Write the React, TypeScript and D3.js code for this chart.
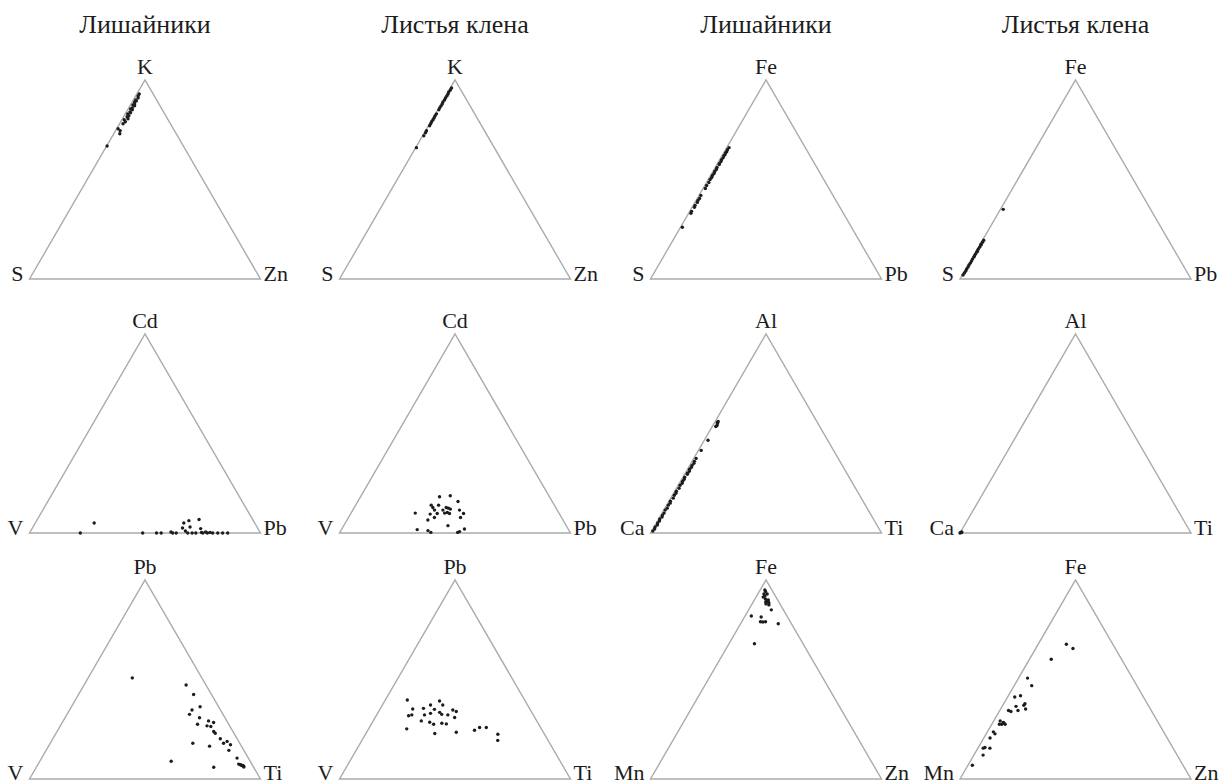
import React from "react";
import * as d3 from "d3";

// column titles (only above the top row)
const columnTitles = ["Лишайники", "Листья клена", "Лишайники", "Листья клена"];

// vertex labels per panel: [top, left, right]
const panelLabels = [
  ["K", "S", "Zn"], ["K", "S", "Zn"], ["Fe", "S", "Pb"], ["Fe", "S", "Pb"],
  ["Cd", "V", "Pb"], ["Cd", "V", "Pb"], ["Al", "Ca", "Ti"], ["Al", "Ca", "Ti"],
  ["Pb", "V", "Ti"], ["Pb", "V", "Ti"], ["Fe", "Mn", "Zn"], ["Fe", "Mn", "Zn"],
];

// points as [top %, right %]; left % = 100 - top - right
const lichenKSZn = [
  [93, 1], [92, 1], [91, 1.5], [90, 1], [89.5, 1.5], [89, 1], [88, 1.5], [87.5, 1],
  [87, 2], [86, 1.5], [85.5, 1], [85, 2], [84, 1.5], [83.5, 2], [83, 1], [82, 2],
  [81.5, 1.5], [80.5, 2.4], [80, 1], [79, 2], [78, 1.5], [75.5, 0.6], [74.5, 2],
  [73, 2.6], [66.8, 0.2],
];
const mapleKSZn = [
  [96, 0.5], [95, 0.5], [94, 0.3], [93, 0.5], [92, 0.5], [91, 0.4], [90, 0.5],
  [89, 0.3], [88, 0.5], [87, 0.5], [86, 0.4], [85, 0.5], [83, 0.5], [82, 0.4],
  [81, 0.5], [80, 0.5], [79, 0.4], [78, 0.5], [77, 0.5], [74.5, 0.4], [73.5, 0.5],
  [72, 0.5], [66, 0.3],
];
const lichenFeSPb = [
  [66, 1], [65, 0.8], [64, 1], [63.5, 0.8], [62.5, 1], [62, 0.8], [61, 1], [60, 0.8],
  [59, 1], [58, 0.8], [57.5, 1], [56, 0.8], [55, 1], [54, 0.8], [53, 1], [52, 0.8],
  [51, 1], [50, 0.8], [48.5, 1], [47, 0.8], [45.5, 1], [42, 0.8], [40.5, 1],
  [39.5, 0.8], [38.5, 1], [37, 0.8], [36, 1], [34, 0.8], [33, 1], [26, 0.8],
];
const mapleFeSPb = [
  [35, 1.2], [19.5, 0.5], [18.5, 0.5], [17.5, 0.4], [17, 0.5], [16, 0.5], [15, 0.4],
  [14, 0.5], [13.5, 0.5], [12.5, 0.4], [11.5, 0.5], [11, 0.5], [10, 0.4], [9, 0.5],
  [8, 0.5], [7, 0.4], [6, 0.5], [5, 0.4], [4, 0.5], [3, 0.4], [2, 0.3],
];
const lichenCdVPb = [
  [0, 22], [5, 25.5], [0, 49], [0, 55], [0, 57], [0.5, 61], [0, 62], [0, 63.5],
  [2.5, 65], [5, 64.3], [6.2, 65.9], [3, 68], [0, 68.5], [1, 67], [0, 70.4], [6.8, 70],
  [2.2, 73], [0.3, 74.3], [0, 75], [0.5, 76], [0, 77], [0.3, 78], [0, 79.3], [0, 72],
  [0, 81.5], [0, 83.6], [0, 85.8],
];
const mapleCdVPb = [
  [18.2, 34.2], [18.7, 38.6], [15.8, 43.4], [10, 27.8], [14, 32.7], [12.8, 34],
  [14, 35.9], [11.5, 35.4], [9.5, 34.5], [9.8, 37.4], [11.5, 39], [10, 40.5],
  [12.8, 39.8], [12.5, 40.9], [12, 42], [10.3, 41.5], [9.8, 42.7], [11.5, 46.2],
  [9.8, 48.8], [7.8, 48.5], [6.5, 35], [7.8, 37.2], [3.7, 45.1], [1.7, 32.8],
  [1.2, 37.7], [0.3, 39.4], [0.3, 51], [0.7, 51.6], [2, 53.1],
];
const lichenAlCaTi = [
  [1, 0.5], [2, 0.8], [3, 0.5], [4, 1], [5, 0.6], [6, 0.9], [7, 0.5], [8, 1], [9, 0.7],
  [10, 0.9], [11.5, 0.6], [12.5, 1], [14, 0.7], [15, 1], [16, 0.6], [17.5, 1.1],
  [19, 0.8], [20, 1], [21, 0.7], [22.5, 1.1], [24, 0.8], [25, 1.2], [26, 0.9],
  [27, 1.1], [28, 0.8], [29.5, 1.2], [30, 1], [31, 1.3], [32, 0.9], [33, 1.2],
  [34, 1], [35, 1.3], [36, 1], [37.5, 1], [41.5, 1.2], [46.6, 1.6], [53.5, 1.5],
  [54, 1.8], [55, 1.5], [55.5, 1.2], [56, 1.3],
];
const mapleAlCaTi = [[0.5, 0.5], [0.3, 0.2], [0, 0], [0.2, 0.6]];
const lichenPbVTi = [
  [50.8, 19.1], [47.2, 44.2], [42.5, 49.8], [34.7, 53], [36.3, 55.7], [32.5, 53],
  [30.8, 58.2], [29.2, 62.9], [28.4, 65.5], [27.5, 59], [26.7, 63.5], [26.4, 65.3],
  [23.9, 67.8], [23, 68.9], [20.2, 72.5], [18, 75], [18.9, 76.1], [17.2, 78.4],
  [14.4, 79.1], [18, 61.7], [16.5, 69.7], [10.5, 84.6], [7.5, 86.8], [7.2, 87.7],
  [6.7, 88.7], [6.4, 89.5], [7, 88], [6.8, 89], [6, 89.8], [8.9, 56.9], [5.9, 76.8],
];
const maplePbVTi = [
  [39.7, 9.5], [35.2, 14.1], [31.8, 14], [32.2, 15.2], [35.5, 18.6], [37.2, 20.8],
  [35, 23.6], [39.2, 23.7], [37.2, 26.1], [32.2, 20.7], [33, 22.9], [33.5, 26.6],
  [32.5, 28], [32.2, 30.8], [34.7, 31.7], [33.9, 33.6], [30.9, 34.4], [29.2, 20.8],
  [28.5, 24.8], [27.5, 27], [28, 30.3], [27.7, 32.4], [25.2, 16.5], [22.9, 29.8],
  [23.5, 38.8], [24.5, 46.2], [25.9, 47.7], [25.9, 50.6], [22.5, 57.3], [19.4, 58.8],
];
const lichenFeMnZn = [
  [95, 2], [94.2, 2.7], [93, 2.6], [93, 4], [92, 3.5], [91.4, 3.1], [90.5, 4.5],
  [90, 6], [89.7, 5.4], [89, 6.5], [88.5, 7], [88.9, 5.4], [88, 6], [87.5, 7.5],
  [85, 9.8], [81.9, 2.7], [81.4, 7.2], [79, 8.1], [78.9, 9.2], [79, 10.3],
  [78, 16.3], [68, 11],
];
const mapleFeMnZn = [
  [67.7, 12.2], [65.6, 16.1], [60.2, 9.4], [50.7, 3.9], [46.9, 7.6], [41.2, 3.1],
  [41.8, 5.3], [36.5, 6], [34.4, 7.9], [37, 9.1], [35.2, 10.8], [37.8, 9.2],
  [34.4, 3.8], [33.9, 5.1], [29.2, 2.8], [27.5, 4.3], [28.4, 4.6], [27.5, 5.8],
  [27.5, 3.3], [28, 5], [23.7, 2.6], [22.7, 3.8], [20.6, 2.7], [15.5, 2.3],
  [15.8, 2.9], [15.5, 5.2], [12, 4], [6.9, 1.9],
];

const panelData = [
  lichenKSZn, mapleKSZn, lichenFeSPb, mapleFeSPb,
  lichenCdVPb, mapleCdVPb, lichenAlCaTi, mapleAlCaTi,
  lichenPbVTi, maplePbVTi, lichenFeMnZn, mapleFeMnZn,
];

const width = 1219;
const height = 784;
const side = 231;
const triH = 199;
const colApex = [145, 455, 766, 1075.5];
const rowApex = [80, 334, 580];
const font = "Liberation Serif";
const ink = "#1c1c1c";

function Panel({ idx }: { idx: number }) {
  const col = idx % 4;
  const row = Math.floor(idx / 4);
  const ax = colApex[col];
  const ay = rowApex[row];
  const left = ax - side / 2;
  const base = ay + triH;
  const x = d3.scaleLinear().domain([0, 100]).range([left, left + side]);
  const y = d3.scaleLinear().domain([0, 100]).range([base, ay]);
  const [tl, ll, rl] = panelLabels[idx];
  const outline = d3.line()([
    [x(0), y(0)],
    [x(100), y(0)],
    [x(50), y(100)],
  ]) + "Z";
  const lblY = row === 2 ? base + 0.5 : base + 2;
  return (
    <g>
      <path d={outline} fill="none" stroke="#ababab" strokeWidth={1.4} />
      {panelData[idx].map(([t, r], i) => (
        <circle key={i} cx={x(r + t / 2)} cy={y(t)} r={1.7} fill={ink} />
      ))}
      <text x={ax} y={ay - 6} textAnchor="middle" fontSize={22} fontFamily={font} fill={ink}>
        {tl}
      </text>
      <text x={left - 6} y={lblY} textAnchor="end" fontSize={22} fontFamily={font} fill={ink}>
        {ll}
      </text>
      <text x={left + side + 3} y={lblY} textAnchor="start" fontSize={22} fontFamily={font} fill={ink}>
        {rl}
      </text>
    </g>
  );
}

export default function App() {
  return (
    <svg
      width={width}
      height={height}
      style={{ position: "absolute", left: 0, top: 0, background: "#fff" }}
    >
      <rect width={width} height={height} fill="#fff" />
      {columnTitles.map((t, i) => (
        <text key={t + i} x={colApex[i]} y={33} textAnchor="middle" fontSize={26} fontFamily={font} fill={ink}>
          {t}
        </text>
      ))}
      {panelData.map((_, i) => (
        <Panel key={i} idx={i} />
      ))}
    </svg>
  );
}
